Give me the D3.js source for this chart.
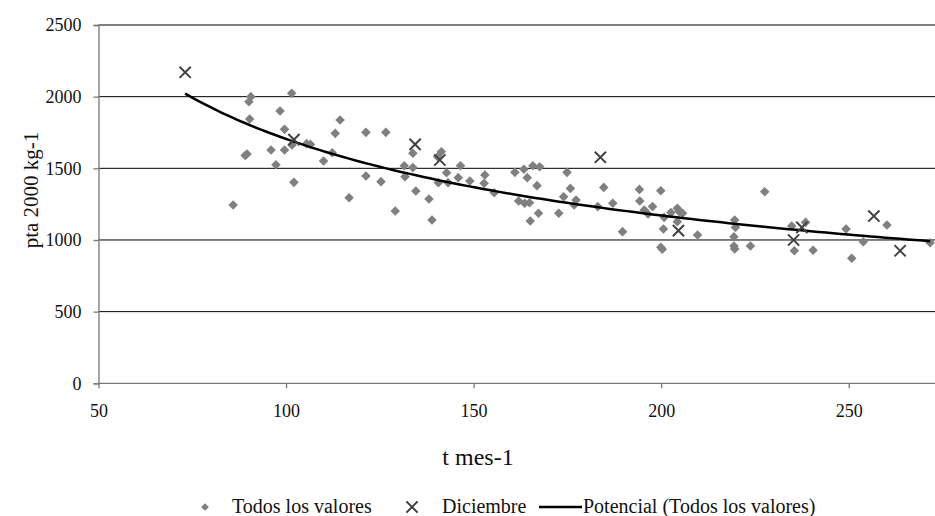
<!DOCTYPE html>
<html>
<head>
<meta charset="utf-8">
<script src="https://cdn.jsdelivr.net/npm/d3@7"></script>
<style>
  html, body { margin: 0; padding: 0; background: #fff; }
  svg { display: block; }
  svg text { font-family: 'Liberation Serif', 'Times New Roman', 'DejaVu Serif', serif; }
</style>
</head>
<body>
<svg id="chart" width="935" height="516"></svg>
<script>
// ── Data ──
const todosX = [85.9, 89.1, 89.6, 90.6, 90.1, 90.3, 98.4, 101.5, 99.6, 96.0, 99.6, 97.3, 102.1, 101.6,
  106.5, 105.5, 110.0, 112.3, 113.1, 114.4, 116.8, 121.3, 121.3, 125.3, 126.6, 129.1, 131.5, 131.7,
  133.8, 133.8, 134.6, 138.1, 138.9, 140.4, 141.4, 140.6, 142.8, 143.2, 145.9, 146.5, 149.0, 153.0,
  152.8, 155.5, 161.0, 163.4, 164.3, 165.8, 167.6, 166.9, 162.0, 163.6, 164.9, 165.1, 167.3, 172.7,
  174.0, 174.9, 175.8, 177.3, 176.8, 183.1, 184.7, 187.1, 189.7, 194.2, 194.3, 195.5, 196.5, 197.7,
  199.9, 200.8, 200.6, 199.9, 200.3, 202.6, 204.3, 204.8, 205.7, 204.3, 209.7, 227.6, 219.6, 219.8,
  219.4, 219.4, 219.6, 223.8, 234.8, 238.5, 235.5, 240.5, 249.3, 250.8, 253.9, 260.2, 271.7];
const todosY = [1244, 1590, 1600, 2000, 1965, 1844, 1900, 2023, 1772, 1628, 1628, 1525, 1402, 1663,
  1667, 1672, 1551, 1609, 1744, 1837, 1295, 1751, 1446, 1407, 1751, 1202, 1518, 1442,
  1605, 1505, 1342, 1286, 1139, 1581, 1616, 1400, 1469, 1400, 1435, 1518, 1411, 1453,
  1395, 1330, 1472, 1493, 1435, 1518, 1511, 1379, 1272, 1256, 1260, 1132, 1186, 1186,
  1302, 1472, 1360, 1279, 1244, 1233, 1367, 1256, 1058, 1353, 1272, 1209, 1181, 1233,
  1344, 1158, 1077, 949, 935, 1191, 1221, 1198, 1186, 1128, 1035, 1337, 1139, 1088,
  1023, 958, 937, 958, 1098, 1123, 925, 928, 1077, 872, 988, 1105, 981];

const dicX = [73.1, 102.1, 134.4, 141.0, 183.8, 204.6, 235.3, 237.5, 256.7, 263.7];
const dicY = [2170, 1700, 1667, 1558, 1577, 1065, 1000, 1088, 1167, 925];

const xTicks = [50, 100, 150, 200, 250];
const yTicks = [0, 500, 1000, 1500, 2000, 2500];

const legendLabels = ['Todos los valores', 'Diciembre', 'Potencial (Todos los valores)'];

(() => {
  'use strict';

  // ── Layout ──
  const svg = d3.select('#chart');
  const plotLeft = 98.5, plotRight = 935, plotTop = 25, plotBottom = 383.3;

  const x = d3.scaleLinear().domain([50, 273]).range([plotLeft, plotRight]);
  const y = d3.scaleLinear().domain([0, 2500]).range([plotBottom, plotTop]);

  // Gridlines
  svg.append('g')
    .selectAll('line')
    .data(yTicks.filter(d => d > 0))
    .join('line')
    .attr('x1', plotLeft).attr('x2', plotRight)
    .attr('y1', d => y(d)).attr('y2', d => y(d))
    .attr('stroke', '#000').attr('stroke-width', 1);

  // Axes
  const yAxis = svg.append('g')
    .attr('transform', `translate(${plotLeft},0)`)
    .call(d3.axisLeft(y).tickValues(yTicks).tickFormat(d3.format('d')).tickSize(5).tickPadding(12));
  const xAxis = svg.append('g')
    .attr('transform', `translate(0,${plotBottom})`)
    .call(d3.axisBottom(x).tickValues(xTicks).tickFormat(d3.format('d')).tickSize(5).tickPadding(16));

  [yAxis, xAxis].forEach(g => {
    g.attr('font-family', null).attr('font-size', 18);
    g.select('.domain').attr('stroke', '#777').attr('stroke-width', 1.3);
    g.selectAll('.tick line').attr('stroke', '#777').attr('stroke-width', 1.3);
    g.selectAll('.tick text').attr('fill', '#111');
  });
  xAxis.select('.domain').attr('d', `M${plotLeft},0H${plotRight}`);

  // Axis titles
  svg.append('text')
    .attr('transform', 'rotate(-90)')
    .attr('x', -190).attr('y', 38)
    .attr('text-anchor', 'middle')
    .attr('font-size', 21).attr('fill', '#111')
    .text('pta 2000 kg-1');

  svg.append('text')
    .attr('x', 478).attr('y', 465)
    .attr('text-anchor', 'middle')
    .attr('font-size', 24).attr('fill', '#111')
    .text('t mes-1');

  // ── Power trendline fitted to all points (least squares in log space) ──
  const allX = todosX.concat(dicX), allY = todosY.concat(dicY);
  const lx = allX.map(Math.log), ly = allY.map(Math.log);
  const mx = d3.mean(lx), my = d3.mean(ly);
  const b = d3.sum(lx, (v, i) => (v - mx) * (ly[i] - my)) / d3.sum(lx, v => (v - mx) ** 2);
  const a = Math.exp(my - b * mx);
  const [xMin, xMax] = d3.extent(allX);
  const trendXs = d3.range(0, 101).map(i => xMin + (xMax - xMin) * i / 100);

  // ── Marks ──
  const diamond = d3.symbol(d3.symbolSquare, 46);
  const cross = d3.symbol(d3.symbolX, 84);

  svg.append('g')
    .selectAll('path')
    .data(todosX.map((v, i) => [v, todosY[i]]))
    .join('path')
    .attr('d', diamond)
    .attr('transform', d => `translate(${x(d[0])},${y(d[1])}) rotate(45)`)
    .attr('fill', '#808080');

  svg.append('path')
    .datum(trendXs)
    .attr('fill', 'none')
    .attr('stroke', '#000')
    .attr('stroke-width', 2.5)
    .attr('d', d3.line().x(d => x(d)).y(d => y(a * Math.pow(d, b))));

  svg.append('g')
    .selectAll('path')
    .data(dicX.map((v, i) => [v, dicY[i]]))
    .join('path')
    .attr('d', cross)
    .attr('transform', d => `translate(${x(d[0])},${y(d[1])})`)
    .attr('fill', 'none')
    .attr('stroke', '#404040')
    .attr('stroke-width', 2);

  // ── Legend ──
  const legY = 507;
  const legend = svg.append('g').attr('font-size', 20).attr('fill', '#111');

  legend.append('path').attr('d', d3.symbol(d3.symbolSquare, 30))
    .attr('transform', `translate(205,${legY}) rotate(45)`).attr('fill', '#808080');
  legend.append('text').attr('x', 232).attr('y', legY + 6).text(legendLabels[0]);

  legend.append('path').attr('d', cross)
    .attr('transform', `translate(412,${legY})`)
    .attr('fill', 'none').attr('stroke', '#404040').attr('stroke-width', 2);
  legend.append('text').attr('x', 442).attr('y', legY + 6).text(legendLabels[1]);

  legend.append('line')
    .attr('x1', 539).attr('x2', 582).attr('y1', legY).attr('y2', legY)
    .attr('stroke', '#000').attr('stroke-width', 2.5);
  legend.append('text').attr('x', 583).attr('y', legY + 6).text(legendLabels[2]);
})();
</script>
</body>
</html>
